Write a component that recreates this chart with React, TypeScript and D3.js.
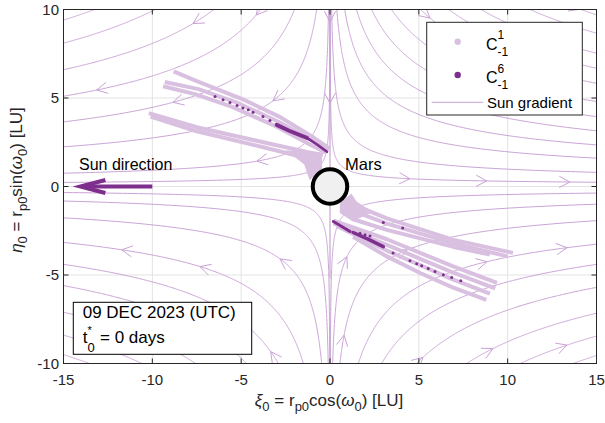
import React from 'react';
import * as d3 from 'd3';

const W = 605;
const H = 423;

const xTicks = [-15, -10, -5, 0, 5, 10, 15];
const yTicks = [-10, -5, 0, 5, 10];

// Sun-gradient streamlines (field ξ' = 2ξ, η' = -η, i.e. ξ·η² = const),
// each one given by |η| where it meets the |ξ| = 15 edge, per quadrant
const upperLeftCrossings = [0.23, 0.75, 2.24, 3.65, 5.1, 6.6, 8.1, 9.4];
const upperRightCrossings = [0.24, 0.8, 1.6, 2.35, 3.15, 3.95, 4.8, 5.83, 6.68, 7.53, 8.66, 9.7];
const lowerLeftCrossings = [0.34, 0.82, 1.77, 3.16, 4.4, 5.6, 7.1, 8.4, 9.5];
const lowerRightCrossings = [0.37, 1.0, 1.93, 3.26, 4.4, 5.7, 7.16, 8.45, 9.55];
// streamline running down the η axis
const axisStreamline: [number, number][] = [[0, 10], [0, -5.2]];
const axisArrowEta = [9.3, 4.7];

// arrowhead locations (snapped onto the nearest streamline)
const arrowPoints: [number, number][] = [
  [-13.13, 5.45], [-8.84, 4.79], [-7.71, 9.24], [-4.11, 9.69], [-3.21, 4.89], [-4.11, 1.33],
  [4.5, 0.27], [8.82, 0.27], [13.5, 0.27], [5.63, 9.8], [14.07, 9.8],
  [-11.72, -3.56], [-7.32, -4.43], [-2.81, -4.15], [-3.38, -9.33],
  [0.73, -3.97], [0.73, -8.4], [5.23, -9.05], [9.17, -9.05], [13.34, -8.84],
  [4.33, -3.19], [8.84, -4.15], [13.34, -3.47],
];

// C^1_{-1} debris: streaks of the two branches leaving Mars
const c1Streaks: [number, number][][] = [
  [[-8.8, 6.5], [-7.5, 5.95], [-5.0, 4.97], [-2.8, 3.92], [-0.9, 2.75], [0.0, 2.12]],
  [[-9.3, 5.9], [-7.4, 5.5], [-5.2, 4.72], [-2.9, 3.66], [-0.8, 2.5], [-0.1, 2.0]],
  [[-9.4, 5.66], [-7.6, 5.22], [-5.5, 4.5], [-3.0, 3.38], [-1.0, 2.3], [-0.25, 1.92]],
  [[-10.2, 4.15], [-7.5, 3.35], [-3.75, 2.5], [-1.3, 1.95], [-0.4, 1.78]],
  [[-10.1, 3.95], [-7.5, 3.12], [-3.75, 2.22], [-1.5, 1.65], [-0.5, 1.5]],
  [[0.9, -0.85], [3.2, -1.8], [6.9, -3.0], [10.3, -3.75]],
  [[0.7, -1.15], [3.2, -2.1], [6.9, -3.2], [10.0, -3.95]],
  [[0.66, -1.42], [1.3, -1.85], [3.2, -2.45], [6.9, -3.4], [9.0, -3.85]],
  [[0.2, -1.93], [3.2, -2.98], [6.9, -4.5], [9.4, -5.45]],
  [[0.2, -2.08], [3.2, -3.3], [6.9, -4.85], [9.3, -5.75]],
  [[0.4, -2.25], [3.2, -3.62], [6.9, -5.25], [9.0, -6.05]],
  [[1.3, -2.84], [3.2, -3.95], [5.1, -4.9], [6.9, -5.7], [8.8, -6.4]],
];
const c1Patches: [number, number][][] = [
  [[-2.5, 2.05], [-0.45, 1.9], [-0.45, 1.0], [-1.15, 0.35], [-1.45, 1.25], [-2.1, 1.75]],
  [[0.55, -0.95], [1.2, -0.4], [1.5, -0.85], [2.4, -1.45], [1.3, -1.95], [0.55, -1.5]],
];

// C^6_{-1} debris: dense clusters and isolated particles
const c6Clusters: [number, number][][] = [
  [[-3.0, 3.48], [-2.3, 3.15], [-1.3, 2.75]],
  [[-1.3, 2.75], [-0.7, 2.35], [-0.17, 1.96]],
  [[0.19, -1.98], [1.13, -2.54]],
  [[1.3, -2.6], [2.2, -3.0], [3.0, -3.4]],
];
const c6Points: [number, number][] = [
  [-6.47, 5.09], [-6.02, 4.9], [-5.63, 4.75], [-5.23, 4.58], [-4.9, 4.43], [-4.6, 4.33],
  [-4.33, 4.2], [-3.77, 3.95], [-3.38, 3.73],
  [3.55, -3.76], [4.5, -4.2], [4.88, -4.37], [5.16, -4.48], [5.53, -4.63], [5.91, -4.8],
  [6.38, -4.99], [6.85, -5.14], [7.36, -5.33], [3.0, -2.03], [4.09, -2.35],
  [1.69, -2.64], [1.97, -2.72], [2.25, -2.8],
];

const marsCenter: [number, number] = [0, 0];
const marsRadius = 0.97;
const sunArrowFrom: [number, number] = [-10, 0];
const sunArrowTo: [number, number] = [-14.05, 0];

const LINE_COLOR = '#c9a2d5';
const LIGHT = '#d9c0e1';
const DARK = '#7e2f8e';
const AXIS = '#262626';
const FONT = 'Liberation Sans, Arial, Helvetica, sans-serif';

const left = 63.5, right = 596.5, top = 9.5, bottom = 363.5;
const x = d3.scaleLinear().domain([-15, 15]).range([left, right]);
const y = d3.scaleLinear().domain([-10, 10]).range([bottom, top]);
const line = d3.line<[number, number]>().x((d) => x(d[0])).y((d) => y(d[1]));

const quadrants = [
  { sx: -1, sy: 1, ys: upperLeftCrossings },
  { sx: 1, sy: 1, ys: upperRightCrossings },
  { sx: -1, sy: -1, ys: lowerLeftCrossings },
  { sx: 1, sy: -1, ys: lowerRightCrossings },
];

function streamline(y0: number, sx: number, sy: number): [number, number][] {
  const c = 15 * y0 * y0;
  const tMin = -0.05;
  const tMax = Math.log(10.6 / y0);
  const pts: [number, number][] = [];
  const n = 260;
  for (let i = 0; i <= n; i++) {
    const t = tMin + ((tMax - tMin) * i) / n;
    const yy = y0 * Math.exp(t);
    pts.push([sx * (c / (yy * yy)), sy * yy]);
  }
  return pts;
}

function snap([xa, ya]: [number, number]): [number, number] {
  const q = quadrants.find((q) => Math.sign(xa) === q.sx && Math.sign(ya) === q.sy)!;
  const ca = Math.abs(xa) * ya * ya;
  let best = q.ys[0];
  for (const y0 of q.ys) {
    if (Math.abs(Math.log(15 * y0 * y0) - Math.log(ca)) < Math.abs(Math.log(15 * best * best) - Math.log(ca))) best = y0;
  }
  const c = 15 * best * best;
  const yA = q.sy * Math.sqrt(c / Math.abs(xa));
  const xB = q.sx * (c / (ya * ya));
  const dA = Math.abs(y(yA) - y(ya));
  const dB = Math.abs(x(xB) - x(xa));
  return dA < dB ? [xa, yA] : [xB, ya];
}

function chevron(px: number, py: number, ang: number, len = 12, half = (28 * Math.PI) / 180) {
  const back = ang + Math.PI;
  const a1 = [px + len * Math.cos(back + half), py + len * Math.sin(back + half)];
  const a2 = [px + len * Math.cos(back - half), py + len * Math.sin(back - half)];
  return `M${a1[0]},${a1[1]}L${px},${py}L${a2[0]},${a2[1]}`;
}

function fieldArrow([xd, yd]: [number, number]) {
  const kx = (right - left) / 30;
  const ky = (bottom - top) / 20;
  const ang = Math.atan2(ky * yd, 2 * xd * kx);
  return chevron(x(xd), y(yd), ang);
}

export default function App() {
  const streamPaths: string[] = [];
  quadrants.forEach((q) => q.ys.forEach((y0) => streamPaths.push(line(streamline(y0, q.sx, q.sy))!)));
  streamPaths.push(line(axisStreamline)!);

  const arrowPaths = arrowPoints.map((p) => fieldArrow(snap(p)));
  axisArrowEta.forEach((e) => arrowPaths.push(chevron(x(0), y(e), Math.PI / 2)));

  const c6Widths = [4, 2.6, 3, 3.5];
  const subDy = 5;

  return (
    <svg width={W} height={H} style={{ position: 'absolute', left: 0, top: 0, background: '#fff' }} fontFamily={FONT}>
      <defs>
        <clipPath id="plot-area">
          <rect x={left} y={top} width={right - left} height={bottom - top} />
        </clipPath>
      </defs>
      <rect x={0} y={0} width={W} height={H} fill="#fff" />
      {/* grid */}
      <g stroke="#e3e3e3" strokeWidth={1}>
        {xTicks.slice(1, -1).map((t) => (
          <line key={'gx' + t} x1={x(t)} x2={x(t)} y1={top} y2={bottom} />
        ))}
        {yTicks.slice(1, -1).map((t) => (
          <line key={'gy' + t} x1={left} x2={right} y1={y(t)} y2={y(t)} />
        ))}
      </g>
      <g clipPath="url(#plot-area)">
        {/* Sun gradient streamlines */}
        <g fill="none" stroke={LINE_COLOR} strokeWidth={1}>
          {streamPaths.map((d, i) => (
            <path key={'s' + i} d={d} />
          ))}
          {arrowPaths.map((d, i) => (
            <path key={'a' + i} d={d} />
          ))}
        </g>
        {/* C^1_{-1} */}
        <g fill={LIGHT} stroke="none">
          {c1Patches.map((p, i) => (
            <path key={'p' + i} d={line(p)! + 'Z'} />
          ))}
        </g>
        <g fill="none" stroke={LIGHT} strokeWidth={4} strokeLinejoin="round">
          {c1Streaks.map((p, i) => (
            <path key={'c1' + i} d={line(p)!} />
          ))}
        </g>
        {/* C^6_{-1} */}
        <g fill="none" stroke={DARK} strokeLinecap="round">
          {c6Clusters.map((p, i) => (
            <path key={'c6' + i} d={line(p)!} strokeWidth={c6Widths[i]} />
          ))}
        </g>
        <g fill={DARK}>
          {c6Points.map((p, i) => (
            <circle key={'d' + i} cx={x(p[0])} cy={y(p[1])} r={1.5} />
          ))}
        </g>
      </g>
      {/* Mars */}
      <circle cx={x(marsCenter[0])} cy={y(marsCenter[1])} r={x(marsRadius) - x(0)} fill="#f0f0f0" stroke="#000" strokeWidth={4} />
      <text x={345} y={169.5} fontSize={16.5} fill="#000">Mars</text>
      {/* Sun direction */}
      <g stroke={DARK} strokeWidth={4} fill="none">
        <line x1={x(sunArrowFrom[0])} y1={y(sunArrowFrom[1])} x2={x(sunArrowTo[0]) + 2} y2={y(sunArrowTo[1])} />
        <path d={`M${x(sunArrowTo[0]) + 25},${y(0) - 6.5}L${x(sunArrowTo[0])},${y(0)}L${x(sunArrowTo[0]) + 25},${y(0) + 6.5}`} strokeLinejoin="miter" />
      </g>
      <text x={79} y={170} fontSize={16} fill="#000">Sun direction</text>
      {/* axes box and ticks */}
      <g stroke={AXIS} strokeWidth={1} fill="none">
        <rect x={left} y={top} width={right - left} height={bottom - top} />
        {xTicks.map((t) => (
          <g key={'tx' + t}>
            <line x1={x(t)} x2={x(t)} y1={bottom} y2={bottom - 5} />
            <line x1={x(t)} x2={x(t)} y1={top} y2={top + 5} />
          </g>
        ))}
        {yTicks.map((t) => (
          <g key={'ty' + t}>
            <line x1={left} x2={left + 5} y1={y(t)} y2={y(t)} />
            <line x1={right} x2={right - 5} y1={y(t)} y2={y(t)} />
          </g>
        ))}
      </g>
      <g fontSize={15} fill={AXIS}>
        {xTicks.map((t) => (
          <text key={'lx' + t} x={x(t)} y={385} textAnchor="middle">{String(t)}</text>
        ))}
        {yTicks.map((t) => (
          <text key={'ly' + t} x={59} y={y(t)} dy="0.35em" textAnchor="end">{String(t)}</text>
        ))}
      </g>
      {/* axis labels */}
      <text x={329} y={405.5} fontSize={17} textAnchor="middle" fill={AXIS}>
        <tspan fontStyle="italic">ξ</tspan>
        <tspan dy={subDy} fontSize={13}>0</tspan>
        <tspan dy={-subDy}>{' = r'}</tspan>
        <tspan dy={subDy} fontSize={13}>p0</tspan>
        <tspan dy={-subDy}>cos(</tspan>
        <tspan fontStyle="italic">ω</tspan>
        <tspan dy={subDy} fontSize={13}>0</tspan>
        <tspan dy={-subDy}>{') [LU]'}</tspan>
      </text>
      <text transform="translate(22,180) rotate(-90)" fontSize={17} textAnchor="middle" fill={AXIS}>
        <tspan fontStyle="italic">η</tspan>
        <tspan dy={subDy} fontSize={13}>0</tspan>
        <tspan dy={-subDy}>{' = r'}</tspan>
        <tspan dy={subDy} fontSize={13}>p0</tspan>
        <tspan dy={-subDy}>sin(</tspan>
        <tspan fontStyle="italic">ω</tspan>
        <tspan dy={subDy} fontSize={13}>0</tspan>
        <tspan dy={-subDy}>{') [LU]'}</tspan>
      </text>
      {/* legend */}
      <g>
        <rect x={426.7} y={22.3} width={155.6} height={92.7} fill="#fff" stroke={AXIS} strokeWidth={1} />
        <circle cx={457.7} cy={41.7} r={3.2} fill={LIGHT} />
        <text x={486} y={50} fontSize={16} fill="#000">C</text>
        <text x={497.5} y={39.3} fontSize={12} fill="#000">1</text>
        <text x={497.5} y={55.7} fontSize={12} fill="#000">-1</text>
        <circle cx={457.7} cy={75} r={3.2} fill={DARK} />
        <text x={486} y={83.3} fontSize={16} fill="#000">C</text>
        <text x={497.5} y={72.6} fontSize={12} fill="#000">6</text>
        <text x={497.5} y={89} fontSize={12} fill="#000">-1</text>
        <line x1={431.7} x2={483.3} y1={102.3} y2={102.3} stroke={LINE_COLOR} strokeWidth={1} />
        <text x={487} y={107.7} fontSize={15} fill="#000">Sun gradient</text>
      </g>
      {/* epoch box */}
      <g>
        <rect x={73.3} y={302.3} width={178.4} height={52} fill="#fff" stroke="#000" strokeWidth={1} />
        <text x={82.7} y={318.3} fontSize={17} fill="#000">09 DEC 2023 (UTC)</text>
        <text x={82.7} y={343.3} fontSize={17} fill="#000">t</text>
        <text x={87.6} y={334} fontSize={11} fill="#000">*</text>
        <text x={87.6} y={351.5} fontSize={13} fill="#000">0</text>
        <text x={100} y={343.3} fontSize={17} fill="#000">= 0 days</text>
      </g>
    </svg>
  );
}
